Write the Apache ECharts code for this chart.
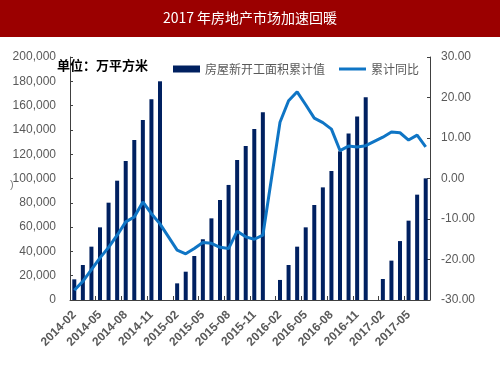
<!DOCTYPE html>
<html>
<head>
<meta charset="utf-8">
<script src="https://cdn.jsdelivr.net/npm/echarts@6/dist/echarts.min.js"></script>
<style>
html,body{margin:0;padding:0;background:#fff;}
#c{width:500px;height:375px;}
</style>
</head>
<body>
<div id="c"></div>
<script>
var titleText = '2017 年房地产市场加速回暖';
var unitText = '单位：万平方米';
var barName = '房屋新开工面积累计值';
var lineName = '累计同比';

var categories = [
  '2014-02','2014-03','2014-04','2014-05','2014-06','2014-07','2014-08','2014-09','2014-10','2014-11','2014-12',
  '2015-01','2015-02','2015-03','2015-04','2015-05','2015-06','2015-07','2015-08','2015-09','2015-10','2015-11','2015-12',
  '2016-01','2016-02','2016-03','2016-04','2016-05','2016-06','2016-07','2016-08','2016-09','2016-10','2016-11','2016-12',
  '2017-01','2017-02','2017-03','2017-04','2017-05','2017-06','2017-07'
];

var areaValues = [
  17000, 28800, 43900, 59800, 80100, 98200, 114400, 131700, 148100, 165200, 180000,
  null, 13700, 23300, 36200, 50000, 67200, 82300, 94700, 115200, 126700, 140700, 154500,
  null, 16500, 28800, 43900, 59800, 78200, 92700, 106200, 122400, 137000, 151000, 166900,
  null, 17300, 32400, 48500, 65300, 86700, 100100
];

var yoyValues = [
  -27.6, -25.4, -22.5, -19.6, -17.0, -14.0, -10.7, -9.5, -5.8, -8.7, -11.2,
  null, -17.7, -18.6, -17.3, -15.8, -16.0, -17.0, -17.3, -13.0, -14.4, -15.0, -14.0,
  null, 13.9, 19.2, 21.4, 18.2, 14.9, 13.8, 12.2, 6.9, 8.0, 7.8, 8.1,
  null, 10.2, 11.5, 11.3, 9.5, 10.7, 7.8
];

var leftTicks = {min: 0, max: 200000, interval: 20000};
var rightTicks = {min: -30, max: 30, interval: 10};

var numFont = "'Liberation Sans Narrow','Arial Narrow','Liberation Sans',Arial,sans-serif";
var cjkFont = "'Noto Sans CJK SC','Liberation Sans',sans-serif";

var chart = echarts.init(document.getElementById('c'), null, {renderer: 'canvas'});
chart.setOption({
  backgroundColor: '#ffffff',
  animation: false,
  graphic: [
    {type: 'rect', left: 0, top: 0, shape: {width: 500, height: 37}, style: {fill: '#9b0000'}, z: 0},
    {type: 'text', left: 'center', top: 11, style: {text: titleText, fill: '#ffffff', font: "14px " + cjkFont}},
    {type: 'text', left: 57, top: 59, style: {text: unitText, fill: '#000000', font: "bold 13px " + cjkFont}, z: 10},
    {type: 'text', left: 10, top: 179, style: {text: ')', fill: '#7f7f7f', font: "11px " + numFont}}
  ],
  legend: [
    {
      data: [{name: barName, icon: 'rect'}],
      left: 168, top: 58, itemWidth: 27, itemHeight: 7, itemGap: 4,
      textStyle: {color: '#595959', fontSize: 12, fontFamily: cjkFont}
    },
    {
      data: [{name: lineName, icon: 'rect'}],
      left: 334, top: 58, itemWidth: 27, itemHeight: 3, itemGap: 4,
      textStyle: {color: '#595959', fontSize: 12, fontFamily: cjkFont}
    }
  ],
  grid: {left: 70, right: 70, top: 57, bottom: 75, containLabel: false},
  xAxis: {
    type: 'category',
    data: categories,
    boundaryGap: true,
    axisLine: {show: true, lineStyle: {color: '#404040', width: 1}},
    axisTick: {show: true, inside: true, interval: 2, length: 4, lineStyle: {color: '#404040'}},
    axisLabel: {
      interval: 2, rotate: 45, margin: 13,
      color: '#595959', fontSize: 12, fontWeight: 'bold', fontFamily: numFont
    },
    splitLine: {show: false}
  },
  yAxis: [
    {
      type: 'value',
      min: leftTicks.min, max: leftTicks.max, interval: leftTicks.interval,
      axisLine: {show: true, lineStyle: {color: '#404040'}},
      axisTick: {show: true, inside: true, length: 3, lineStyle: {color: '#404040'}},
      axisLabel: {
        margin: 14, color: '#595959', fontSize: 12, fontFamily: numFont,
        formatter: function (v) { return v.toLocaleString('en-US'); }
      },
      splitLine: {show: false}
    },
    {
      type: 'value',
      min: rightTicks.min, max: rightTicks.max, interval: rightTicks.interval,
      position: 'right',
      axisLine: {show: true, lineStyle: {color: '#404040'}},
      axisTick: {show: true, inside: true, length: 3, lineStyle: {color: '#404040'}},
      axisLabel: {
        margin: 11, color: '#595959', fontSize: 12, fontFamily: numFont,
        formatter: function (v) { return v.toFixed(2); }
      },
      splitLine: {show: false}
    }
  ],
  series: [
    {
      name: barName,
      type: 'bar',
      yAxisIndex: 0,
      data: areaValues,
      barWidth: 4,
      itemStyle: {color: '#002060'},
      z: 2
    },
    {
      name: lineName,
      type: 'line',
      yAxisIndex: 1,
      data: yoyValues,
      connectNulls: true,
      showSymbol: false,
      symbol: 'none',
      lineStyle: {color: '#0f75c5', width: 3},
      itemStyle: {color: '#0f75c5'},
      z: 3
    }
  ]
});
</script>
</body>
</html>
